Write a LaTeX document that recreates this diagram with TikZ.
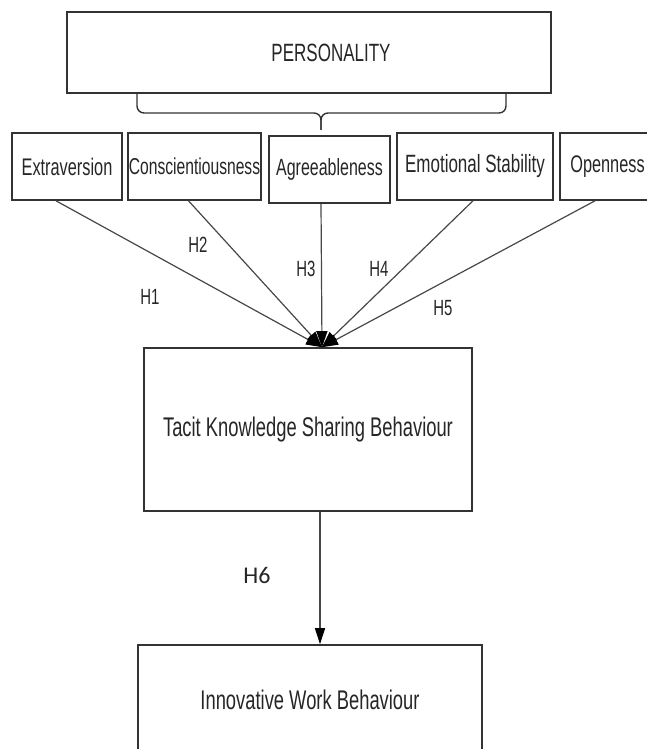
\documentclass[tikz,border=0pt]{standalone}
\usepackage{fontspec}
\usepackage{tikz}
\usetikzlibrary{arrows.meta,shapes}
\newfontfamily\narrowsans[FakeStretch=0.68]{Liberation Sans}
\newfontfamily\hypsans{Carlito}
\newcommand{\boxw}{1.6pt}
\newcommand{\linew}{1.2pt}

\begin{document}
\begin{tikzpicture}[x=1pt,y=-1pt]
            \tikzset{
                TraitBox/.style = {draw=black!80, line width=\boxw, fill=white, inner sep=0pt,
                    minimum height=67pt, text=black!85, font=\narrowsans\fontsize{24pt}{24pt}\selectfont},
                BigBox/.style = {TraitBox, font=\narrowsans\fontsize{27pt}{27pt}\selectfont},
                Path/.style = {draw=black!72, line width=\linew},
                Tip/.style = {-{Triangle[length=16pt,width=11pt,fill=black,color=black]}},
                HypLabel/.style = {text=black!85, font=\narrowsans\fontsize{22pt}{22pt}\selectfont},
            }
            \useasboundingbox (0,0) rectangle (646,749);
            % personality
            \node[TraitBox, minimum width=484pt, minimum height=81pt] (pers) at (309,52.5) {};
            \node[TraitBox, draw=none, fill=none, minimum height=0pt, font=\narrowsans\fontsize{25pt}{25pt}\selectfont] (perstext) at (331,53) {PERSONALITY};
            \draw[Path, draw=black!80, line width=1.4pt, rounded corners=7pt] (137,93) -- (137,113) -- (321,113) -- (321,130);
            \draw[Path, draw=black!80, line width=1.4pt, rounded corners=7pt] (506,93) -- (506,113) -- (321,113) -- (321,130);
            % traits
            \node[TraitBox, minimum width=110pt] (extra) at (67,166.5) {Extraversion};
            \node[TraitBox, minimum width=133pt, font=\narrowsans\fontsize{23pt}{23pt}\selectfont] (consc) at (194.5,166.5) {Conscientiousness};
            \node[TraitBox, minimum width=121pt, font=\narrowsans\fontsize{23.5pt}{23.5pt}\selectfont] (agree) at (329.5,169.5) {Agreeableness};
            \node[TraitBox, minimum width=156pt, font=\narrowsans\fontsize{25pt}{25pt}\selectfont] (emot) at (475,166.5) {Emotional Stability};
            \node[TraitBox, minimum width=95pt] (open) at (607.5,166.5) {Openness};
            % outcomes
            \node[BigBox, minimum width=328pt, minimum height=163pt] (tacit) at (308,429.5) {Tacit Knowledge Sharing Behaviour};
            \node[BigBox, minimum width=344pt, minimum height=110pt] (iwb) at (310,700) {Innovative Work Behaviour};
            \coordinate (hub) at ([xshift=14pt]tacit.north);
            % hypotheses
            \draw[Path, Tip] ([xshift=-11pt]extra.south) -- (hub);
            \draw[Path, Tip] ([xshift=-6pt]consc.south) -- (hub);
            \draw[Path, Tip] ([xshift=-8.5pt]agree.south) -- (hub);
            \draw[Path, Tip] ([xshift=-2pt]emot.south) -- (hub);
            \draw[Path, Tip] ([xshift=-12.5pt]open.south) -- (hub);
            \draw[Path, -{Triangle[length=16pt,width=10pt,fill=black,color=black]}] ([xshift=12pt]tacit.south) -- ([xshift=10pt]iwb.north);
            \node[HypLabel] (h1) at (150,297) {H1};
            \node[HypLabel] (h2) at (198,245) {H2};
            \node[HypLabel] (h3) at (306,269) {H3};
            \node[HypLabel] (h4) at (379,269) {H4};
            \node[HypLabel] (h5) at (443,308) {H5};
            \node[text=black!85, font=\hypsans\fontsize{24pt}{24pt}\selectfont] (h6) at (257,575) {H6};
\end{tikzpicture}
\end{document}
